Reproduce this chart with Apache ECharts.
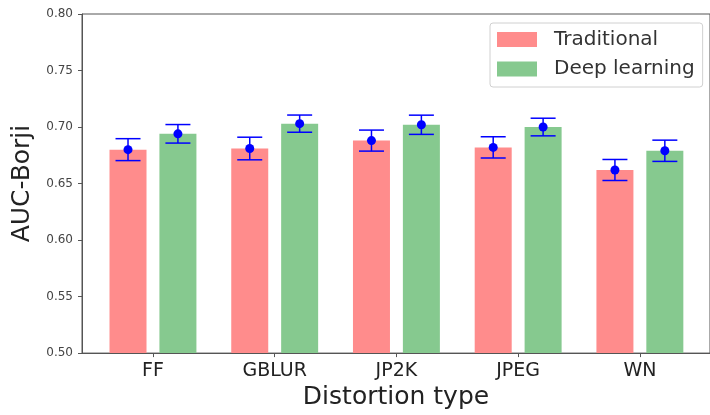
<!DOCTYPE html>
<html>
<head>
<meta charset="utf-8">
<script src="https://cdn.jsdelivr.net/npm/echarts@6/dist/echarts.min.js"></script>
<style>html,body{margin:0;padding:0;background:#fff}#c{width:710px;height:415px}</style>
</head>
<body>
<div id="c"></div>
<script>
const categories = ['FF', 'GBLUR', 'JP2K', 'JPEG', 'WN'];
const traditionalMean = [0.680, 0.681, 0.688, 0.682, 0.662];
const traditionalErr  = [0.0097, 0.0100, 0.0093, 0.0094, 0.0093];
const deepMean = [0.694, 0.703, 0.702, 0.700, 0.679];
const deepErr  = [0.0082, 0.0076, 0.0085, 0.0078, 0.0094];
const yTicks = [0.50, 0.55, 0.60, 0.65, 0.70, 0.75, 0.80];

const FONT = 'DejaVu Sans';
const OFF = 0.205;
const RED = '#ff8c8c';
const GREEN = '#86c98f';

function barData(means, off) {
  return means.map((v, i) => [i + off, v]);
}
function errData(means, errs, off) {
  return means.map((v, i) => [i + off, v, errs[i]]);
}
function renderErr(params, api) {
  const x = api.value(0), m = api.value(1), e = api.value(2);
  const top = api.coord([x, m + e]);
  const bot = api.coord([x, m - e]);
  const mid = api.coord([x, m]);
  const hw = 12.5;
  const st = {stroke: '#0000ff', lineWidth: 1.5};
  return {
    type: 'group',
    children: [
      {type: 'line', shape: {x1: top[0], y1: top[1], x2: bot[0], y2: bot[1]}, style: st},
      {type: 'line', shape: {x1: top[0]-hw, y1: top[1], x2: top[0]+hw, y2: top[1]}, style: st},
      {type: 'line', shape: {x1: bot[0]-hw, y1: bot[1], x2: bot[0]+hw, y2: bot[1]}, style: st},
      {type: 'circle', shape: {cx: mid[0], cy: mid[1], r: 4.5}, style: {fill: '#0000ff'}}
    ]
  };
}

const chart = echarts.init(document.getElementById('c'), null, {renderer: 'canvas'});
chart.setOption({
  animation: false,
  backgroundColor: '#fff',
  grid: {left: 82, top: 14, bottom: 59, right: -5, show: true, borderColor: '#555', borderWidth: 1},
  legend: {
    left: 490, top: 23, orient: 'vertical',
    itemWidth: 40, itemHeight: 15, itemGap: 9.5,
    padding: [6.5, 8, 8, 7],
    backgroundColor: '#fff', borderColor: '#d0d0d0', borderWidth: 1, borderRadius: 3,
    textStyle: {fontFamily: FONT, fontSize: 20, color: '#333', lineHeight: 20, padding: [0, 0, 0, 12]},
    data: [{name: 'Traditional', icon: 'rect'}, {name: 'Deep learning', icon: 'rect'}]
  },
  xAxis: {
    type: 'value', min: -0.583, max: 4.576,
    name: 'Distortion type', nameLocation: 'middle', nameGap: 30,
    nameTextStyle: {fontFamily: FONT, fontSize: 25, color: '#222'},
    axisLine: {show: true, onZero: false, lineStyle: {color: '#555', width: 1}},
    axisTick: {show: true, length: 4, lineStyle: {color: '#555'}, customValues: [0, 1, 2, 3, 4]},
    axisLabel: {customValues: [0, 1, 2, 3, 4], formatter: v => categories[Math.round(v)] || '',
      fontFamily: FONT, fontSize: 19, color: '#222', margin: 8},
    splitLine: {show: false}
  },
  yAxis: {
    type: 'value', min: 0.5, max: 0.8, interval: 0.05,
    name: 'AUC-Borji', nameLocation: 'middle', nameGap: 46,
    nameTextStyle: {fontFamily: FONT, fontSize: 25, color: '#222'},
    axisLine: {show: true, onZero: false, lineStyle: {color: '#555', width: 1}},
    axisTick: {show: true, length: 4, lineStyle: {color: '#555'}},
    axisLabel: {formatter: v => v.toFixed(2), fontFamily: FONT, fontSize: 12, color: '#444', margin: 9},
    splitLine: {show: false}
  },
  series: [
    {name: 'Traditional', type: 'bar', data: barData(traditionalMean, -OFF), barWidth: 37, barGap: '-100%',
     itemStyle: {color: RED}},
    {name: 'Deep learning', type: 'bar', data: barData(deepMean, OFF), barWidth: 37, barGap: '-100%',
     itemStyle: {color: GREEN}},
    {type: 'custom', renderItem: renderErr, data: errData(traditionalMean, traditionalErr, -OFF), z: 5},
    {type: 'custom', renderItem: renderErr, data: errData(deepMean, deepErr, OFF), z: 5}
  ]
});
</script>
</body>
</html>
